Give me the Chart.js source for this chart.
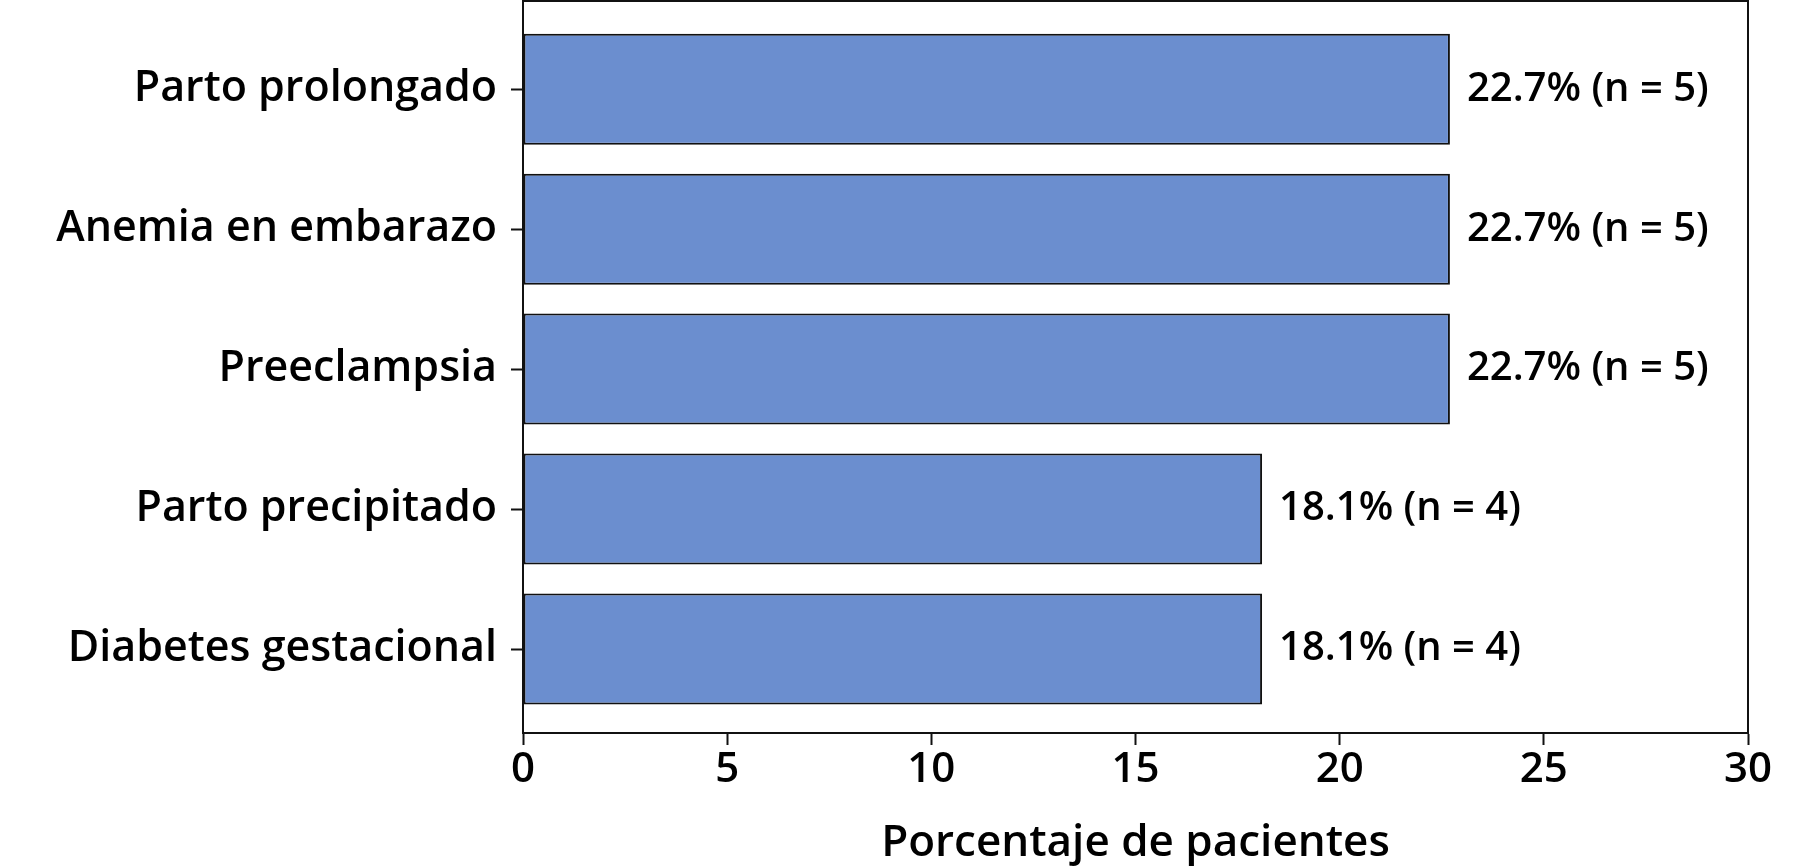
<!DOCTYPE html>
<html>
<head>
<meta charset="utf-8">
<script src="https://cdn.jsdelivr.net/npm/chart.js@4/dist/chart.umd.min.js"></script>
<style>
  html, body { margin: 0; padding: 0; background: #fff; }
  #wrap { width: 1800px; height: 867px; }
</style>
</head>
<body>
<div id="wrap"><canvas id="c"></canvas></div>
<script>
const categories = ["Parto prolongado", "Anemia en embarazo", "Preeclampsia", "Parto precipitado", "Diabetes gestacional"];
const percentages = [22.7, 22.7, 22.7, 18.1, 18.1];
const counts = [5, 5, 5, 4, 4];
const xTicks = [0, 5, 10, 15, 20, 25, 30];

const FONT = "'Open Sans', sans-serif";

// frame round the plot area (top and right sides)
const framePlugin = {
  id: "frame",
  afterDraw(chart) {
    const { ctx, chartArea: a } = chart;
    ctx.save();
    ctx.strokeStyle = "#111";
    ctx.lineWidth = 2;
    ctx.strokeRect(a.left, a.top, a.right - a.left, a.bottom - a.top);
    ctx.restore();
  }
};

// "22.7% (n = 5)" next to each bar
const valueLabels = {
  id: "valueLabels",
  afterDatasetsDraw(chart) {
    const { ctx } = chart;
    const meta = chart.getDatasetMeta(0);
    ctx.save();
    ctx.font = "600 40px " + FONT;
    ctx.fillStyle = "#000";
    ctx.textAlign = "left";
    ctx.textBaseline = "middle";
    meta.data.forEach((bar, i) => {
      ctx.fillText(percentages[i] + "% (n = " + counts[i] + ")", bar.x + 17, bar.y);
    });
    ctx.restore();
  }
};

new Chart(document.getElementById("c"), {
  type: "bar",
  data: {
    datasets: [{
      data: percentages.map((v, i) => ({ x: v, y: i })),
      backgroundColor: "#6b8ecf",
      borderColor: "#111",
      borderWidth: 2,
      borderSkipped: false,
      categoryPercentage: 1,
      barPercentage: 0.793
    }]
  },
  options: {
    indexAxis: "y",
    responsive: true,
    maintainAspectRatio: false,
    animation: false,
    layout: { padding: { top: 1, right: 52, left: 0, bottom: 0 } },
    plugins: { legend: { display: false }, tooltip: { enabled: false } },
    scales: {
      x: {
        type: "linear",
        min: 0,
        max: 30,
        afterBuildTicks: (axis) => { axis.ticks = xTicks.map(v => ({ value: v })); },
        afterFit: (s) => { s.height = 134; s.paddingRight = 0; s.paddingLeft = 0; },
        grid: { drawOnChartArea: false, drawTicks: true, tickLength: 12, tickColor: "#111", tickWidth: 2 },
        border: { color: "#111", width: 2 },
        ticks: { color: "#000", font: { family: FONT, size: 42, weight: 600 }, padding: 0 },
        title: { display: true, text: "Porcentaje de pacientes", color: "#000", font: { family: FONT, size: 44, weight: 600, lineHeight: 1.05 }, padding: { top: 0, bottom: 0 } }
      },
      y: {
        type: "linear",
        reverse: true,
        offset: false,
        min: -0.63,
        max: 4.6,
        afterBuildTicks: (axis) => { axis.ticks = categories.map((c, i) => ({ value: i })); },
        afterFit: (s) => { s.width = 523; s.paddingTop = 0; s.paddingBottom = 0; },
        grid: { offset: false, drawOnChartArea: false, drawTicks: true, tickLength: 12, tickColor: "#111", tickWidth: 2 },
        border: { color: "#111", width: 2 },
        ticks: { color: "#000", font: { family: FONT, size: 43, weight: 600 }, padding: 14, callback: (v) => categories[v] }
      }
    }
  },
  plugins: [framePlugin, valueLabels]
});
</script>
</body>
</html>
